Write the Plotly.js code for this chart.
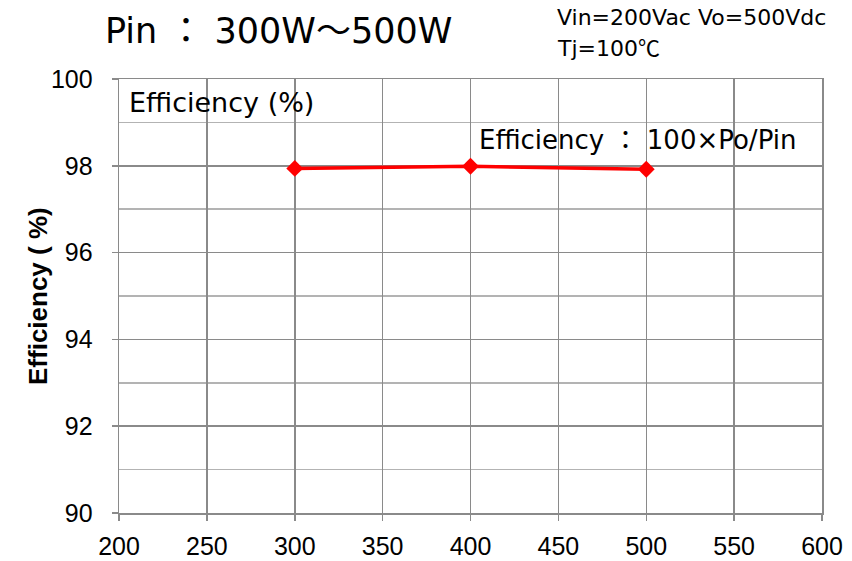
<!DOCTYPE html>
<html>
<head>
<meta charset="utf-8">
<script src="https://cdn.plot.ly/plotly-3.0.1.min.js"></script>
<style>html,body{margin:0;padding:0;background:#fff;}#chart{width:852px;height:561px;}</style>
</head>
<body>
<div id="chart"></div>
<script>
const pinW = [300, 400, 500];
const efficiency = [97.94, 97.99, 97.92];
const xTicks = [200, 250, 300, 350, 400, 450, 500, 550, 600];
const yTicks = [90, 92, 94, 96, 98, 100];

const trace = {
  x: pinW, y: efficiency, type: 'scatter', mode: 'lines+markers',
  line: {color: '#ff0000', width: 3.5},
  marker: {symbol: 'diamond', size: 13, color: '#ff0000'},
  showlegend: false, cliponaxis: false
};

const gridMajor = '#8a8a8a';
const gridMinor = '#b3b3b3';
const txtFont = 'DejaVu Sans';
const cjk = s => '<span style="font-family:\'Noto Sans CJK JP\'">' + s + '</span>';
const pad = '\u00a0\u00a0';

const layout = {
  width: 852, height: 561,
  margin: {l: 119, r: 30, t: 79, b: 48},
  paper_bgcolor: '#ffffff', plot_bgcolor: '#ffffff',
  xaxis: {
    range: [200, 600], tickvals: xTicks, ticktext: xTicks.map(String),
    showgrid: true, gridcolor: gridMajor, gridwidth: 1.5,
    showline: true, linecolor: gridMajor, linewidth: 1.5, mirror: true,
    ticks: 'outside', ticklen: 6, tickcolor: gridMajor, tickwidth: 1.5,
    ticklabelstandoff: 4,
    tickfont: {family: 'Liberation Sans, Arial', size: 25, color: '#000'},
    zeroline: false, fixedrange: true
  },
  yaxis: {
    range: [90, 100], tickvals: yTicks, ticktext: yTicks.map(v => String(v) + pad),
    showgrid: true, gridcolor: gridMajor, gridwidth: 1.5,
    minor: {dtick: 1, showgrid: true, gridcolor: gridMinor, gridwidth: 1.5, ticks: ''},
    showline: true, linecolor: gridMajor, linewidth: 1.5, mirror: true,
    ticks: 'outside', ticklen: 6, tickcolor: gridMajor, tickwidth: 1.5,
    tickfont: {family: 'Liberation Sans, Arial', size: 25, color: '#000'},
    zeroline: false, fixedrange: true
  },
  annotations: [
    {text: '<b>Efficiency ( %)</b>', xref: 'paper', yref: 'paper', x: (38-119)/703, y: (513-296)/434,
     xanchor: 'center', yanchor: 'middle', textangle: -90, showarrow: false,
     font: {family: 'Liberation Sans, Arial', size: 26, color: '#000'}},
    {text: 'Pin ' + cjk('：') + ' 300W' + cjk('～') + '500W', xref: 'paper', yref: 'paper', x: (103-119)/703, y: 1 + (79-27)/434,
     xanchor: 'left', yanchor: 'middle', showarrow: false,
     font: {family: txtFont, size: 35, color: '#000'}},
    {text: 'Vin=200Vac Vo=500Vdc', xref: 'paper', yref: 'paper', x: (555-119)/703, y: 1 + (79-17)/434,
     xanchor: 'left', yanchor: 'middle', showarrow: false,
     font: {family: txtFont, size: 22, color: '#000'}},
    {text: 'Tj=100' + cjk('℃'), xref: 'paper', yref: 'paper', x: (555-119)/703, y: 1 + (79-46)/434,
     xanchor: 'left', yanchor: 'middle', showarrow: false,
     font: {family: txtFont, size: 22, color: '#000'}},
    {text: 'Efficiency (%)', xref: 'paper', yref: 'paper', x: (127-119)/703, y: 1 - (102-79)/434,
     xanchor: 'left', yanchor: 'middle', showarrow: false,
     font: {family: txtFont, size: 27, color: '#000'}},
    {text: 'Efficiency ' + cjk('：') + ' 100×Po/Pin', xref: 'paper', yref: 'paper', x: (477-119)/703, y: 1 - (137-79)/434,
     xanchor: 'left', yanchor: 'middle', showarrow: false,
     font: {family: txtFont, size: 26, color: '#000'}}
  ]
};

Plotly.newPlot('chart', [trace], layout, {displayModeBar: false, staticPlot: true});
</script>
</body>
</html>
